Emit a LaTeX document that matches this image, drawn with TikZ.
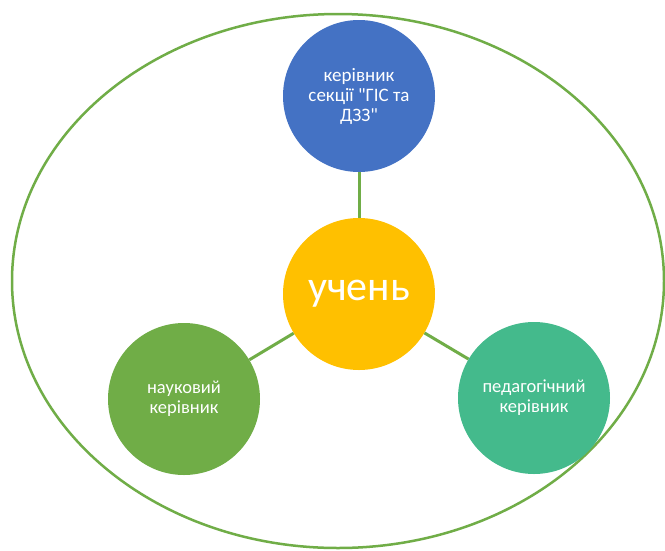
\documentclass[tikz,border=0pt]{standalone}
\usepackage{fontspec}
\setmainfont{Carlito}
\definecolor{ringgreen}{HTML}{70AD47}
\definecolor{topblue}{HTML}{4472C4}
\definecolor{midyellow}{HTML}{FFC000}
\definecolor{leftgreen}{HTML}{70AD47}
\definecolor{rightteal}{HTML}{44BA8C}
\begin{document}
\begin{tikzpicture}[x=1pt,y=-1pt,
  role/.style={circle, minimum size=152pt, inner sep=0pt, text=white,
    align=center, font=\fontsize{19}{20}\selectfont},
  link/.style={draw=ringgreen, line width=3pt}]
\useasboundingbox (0,0) rectangle (665,550);
\fill[white] (0,0) rectangle (665,550);
% outer ring
\draw[ringgreen, line width=2.5pt] (338,281) ellipse [x radius=326, y radius=267];
% circles
\node[role, fill=topblue] (head) at (359,96) {керівник\\секції \textquotedbl ГІС та\\ДЗЗ\textquotedbl};
\node[role, fill=midyellow, font=\fontsize{42}{44}\selectfont] (pupil) at (359,294) {учень};
\node[role, fill=leftgreen, text width=140pt, font=\fontsize{18.5}{20}\selectfont] (sci) at (184,399) {науковий\\керівник};
\node[role, fill=rightteal, text width=140pt, font=\fontsize{18.5}{20}\selectfont] (ped) at (534,398) {педагогічний\\керівник};
% connectors
\draw[link] (head) -- (pupil);
\draw[link] (sci) -- (pupil);
\draw[link] (ped) -- (pupil);
\end{tikzpicture}
\end{document}
